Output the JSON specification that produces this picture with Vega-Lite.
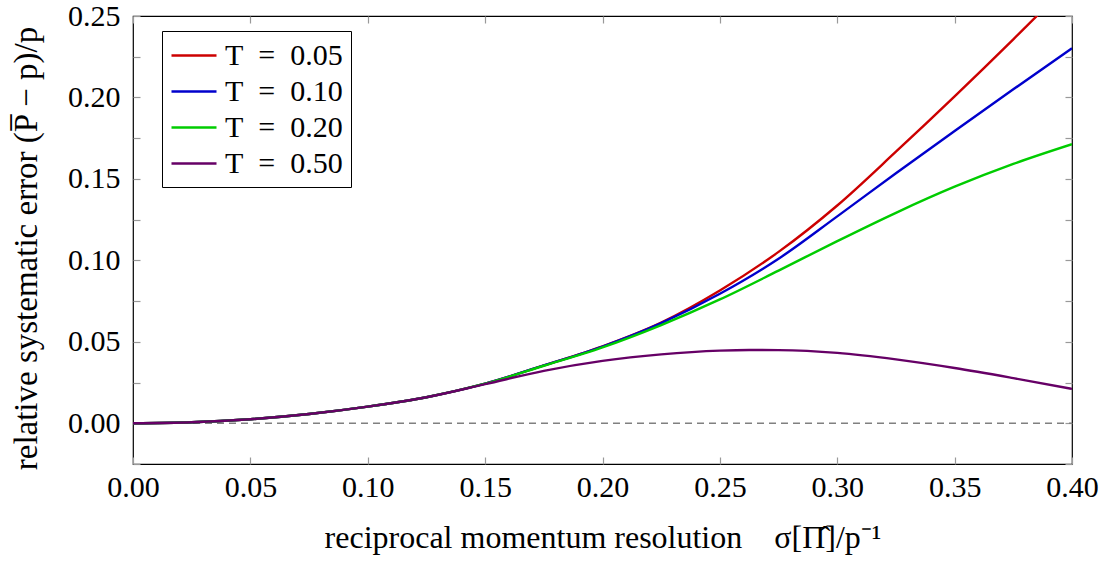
{
  "$schema": "https://vega.github.io/schema/vega-lite/v6.json",
  "width": 939,
  "height": 448,
  "autosize": {"type": "none"},
  "padding": {"left": 133, "top": 16, "right": 36, "bottom": 99},
  "background": "white",
  "config": {
    "font": "Liberation Serif, serif",
    "view": {"stroke": "black", "strokeWidth": 1.2},
    "axis": {
      "labelFont": "Liberation Serif, serif",
      "titleFont": "Liberation Serif, serif",
      "labelFontSize": 30,
      "titleFontSize": 32,
      "labelColor": "black",
      "titleColor": "black",
      "titleFontWeight": "normal",
      "gridColor": "#c8c8c8",
      "gridWidth": 1.2,
      "tickColor": "#999999",
      "tickWidth": 1.2,
      "domain": false
    }
  },
  "datasets": {
    "curves": [
      {"sigma": 0, "err": 0, "T": "T\u2002=\u20020.05"},
      {"sigma": 0.025, "err": 0.0006, "T": "T\u2002=\u20020.05"},
      {"sigma": 0.05, "err": 0.0025, "T": "T\u2002=\u20020.05"},
      {"sigma": 0.075, "err": 0.0057, "T": "T\u2002=\u20020.05"},
      {"sigma": 0.1, "err": 0.0102, "T": "T\u2002=\u20020.05"},
      {"sigma": 0.125, "err": 0.016, "T": "T\u2002=\u20020.05"},
      {"sigma": 0.15, "err": 0.0243, "T": "T\u2002=\u20020.05"},
      {"sigma": 0.175, "err": 0.0355, "T": "T\u2002=\u20020.05"},
      {"sigma": 0.2, "err": 0.0472, "T": "T\u2002=\u20020.05"},
      {"sigma": 0.225, "err": 0.0618, "T": "T\u2002=\u20020.05"},
      {"sigma": 0.25, "err": 0.0815, "T": "T\u2002=\u20020.05"},
      {"sigma": 0.275, "err": 0.1052, "T": "T\u2002=\u20020.05"},
      {"sigma": 0.3, "err": 0.1337, "T": "T\u2002=\u20020.05"},
      {"sigma": 0.325, "err": 0.1667, "T": "T\u2002=\u20020.05"},
      {"sigma": 0.35, "err": 0.2007, "T": "T\u2002=\u20020.05"},
      {"sigma": 0.375, "err": 0.2357, "T": "T\u2002=\u20020.05"},
      {"sigma": 0.4, "err": 0.2717, "T": "T\u2002=\u20020.05"},
      {"sigma": 0, "err": 0, "T": "T\u2002=\u20020.10"},
      {"sigma": 0.025, "err": 0.0006, "T": "T\u2002=\u20020.10"},
      {"sigma": 0.05, "err": 0.0025, "T": "T\u2002=\u20020.10"},
      {"sigma": 0.075, "err": 0.0057, "T": "T\u2002=\u20020.10"},
      {"sigma": 0.1, "err": 0.0102, "T": "T\u2002=\u20020.10"},
      {"sigma": 0.125, "err": 0.016, "T": "T\u2002=\u20020.10"},
      {"sigma": 0.15, "err": 0.0243, "T": "T\u2002=\u20020.10"},
      {"sigma": 0.175, "err": 0.0355, "T": "T\u2002=\u20020.10"},
      {"sigma": 0.2, "err": 0.0471, "T": "T\u2002=\u20020.10"},
      {"sigma": 0.225, "err": 0.0615, "T": "T\u2002=\u20020.10"},
      {"sigma": 0.25, "err": 0.0795, "T": "T\u2002=\u20020.10"},
      {"sigma": 0.275, "err": 0.101, "T": "T\u2002=\u20020.10"},
      {"sigma": 0.3, "err": 0.127, "T": "T\u2002=\u20020.10"},
      {"sigma": 0.325, "err": 0.1535, "T": "T\u2002=\u20020.10"},
      {"sigma": 0.35, "err": 0.1794, "T": "T\u2002=\u20020.10"},
      {"sigma": 0.375, "err": 0.205, "T": "T\u2002=\u20020.10"},
      {"sigma": 0.4, "err": 0.2302, "T": "T\u2002=\u20020.10"},
      {"sigma": 0, "err": 0, "T": "T\u2002=\u20020.20"},
      {"sigma": 0.025, "err": 0.0006, "T": "T\u2002=\u20020.20"},
      {"sigma": 0.05, "err": 0.0025, "T": "T\u2002=\u20020.20"},
      {"sigma": 0.075, "err": 0.0057, "T": "T\u2002=\u20020.20"},
      {"sigma": 0.1, "err": 0.0102, "T": "T\u2002=\u20020.20"},
      {"sigma": 0.125, "err": 0.016, "T": "T\u2002=\u20020.20"},
      {"sigma": 0.15, "err": 0.0243, "T": "T\u2002=\u20020.20"},
      {"sigma": 0.175, "err": 0.0353, "T": "T\u2002=\u20020.20"},
      {"sigma": 0.2, "err": 0.0466, "T": "T\u2002=\u20020.20"},
      {"sigma": 0.225, "err": 0.0603, "T": "T\u2002=\u20020.20"},
      {"sigma": 0.25, "err": 0.076, "T": "T\u2002=\u20020.20"},
      {"sigma": 0.275, "err": 0.0937, "T": "T\u2002=\u20020.20"},
      {"sigma": 0.3, "err": 0.1118, "T": "T\u2002=\u20020.20"},
      {"sigma": 0.325, "err": 0.1292, "T": "T\u2002=\u20020.20"},
      {"sigma": 0.35, "err": 0.1452, "T": "T\u2002=\u20020.20"},
      {"sigma": 0.375, "err": 0.1592, "T": "T\u2002=\u20020.20"},
      {"sigma": 0.4, "err": 0.1713, "T": "T\u2002=\u20020.20"},
      {"sigma": 0, "err": 0, "T": "T\u2002=\u20020.50"},
      {"sigma": 0.025, "err": 0.0006, "T": "T\u2002=\u20020.50"},
      {"sigma": 0.05, "err": 0.0025, "T": "T\u2002=\u20020.50"},
      {"sigma": 0.075, "err": 0.0057, "T": "T\u2002=\u20020.50"},
      {"sigma": 0.1, "err": 0.0102, "T": "T\u2002=\u20020.50"},
      {"sigma": 0.125, "err": 0.016, "T": "T\u2002=\u20020.50"},
      {"sigma": 0.15, "err": 0.024, "T": "T\u2002=\u20020.50"},
      {"sigma": 0.175, "err": 0.0322, "T": "T\u2002=\u20020.50"},
      {"sigma": 0.2, "err": 0.0383, "T": "T\u2002=\u20020.50"},
      {"sigma": 0.225, "err": 0.0423, "T": "T\u2002=\u20020.50"},
      {"sigma": 0.25, "err": 0.0446, "T": "T\u2002=\u20020.50"},
      {"sigma": 0.2625, "err": 0.0450, "T": "T\u2002=\u20020.50"},
      {"sigma": 0.275, "err": 0.0449, "T": "T\u2002=\u20020.50"},
      {"sigma": 0.3, "err": 0.0432, "T": "T\u2002=\u20020.50"},
      {"sigma": 0.325, "err": 0.0392, "T": "T\u2002=\u20020.50"},
      {"sigma": 0.35, "err": 0.0339, "T": "T\u2002=\u20020.50"},
      {"sigma": 0.375, "err": 0.0277, "T": "T\u2002=\u20020.50"},
      {"sigma": 0.4, "err": 0.0211, "T": "T\u2002=\u20020.50"}
    ]
  },
  "layer": [
    {
      "data": {"values": [{}]},
      "mark": {"type": "rule", "strokeDash": [7, 5], "color": "#808080", "strokeWidth": 1.5},
      "encoding": {
        "x": {"datum": 0, "type": "quantitative", "scale": {"domain": [0, 0.4], "nice": false, "zero": false},
          "axis": {"orient": "top", "values": [0, 0.05, 0.1, 0.15, 0.2, 0.25, 0.3, 0.35, 0.4], "labels": false, "grid": false, "tickSize": -7, "title": null}},
        "x2": {"datum": 0.4},
        "y": {"datum": 0, "type": "quantitative", "scale": {"domain": [-0.025, 0.25], "nice": false, "zero": false},
          "axis": {"orient": "right", "values": [-0.025, 0, 0.025, 0.05, 0.075, 0.1, 0.125, 0.15, 0.175, 0.2, 0.225, 0.25], "labels": false, "grid": false, "tickSize": -7, "title": null}}
      }
    },
    {
      "data": {"name": "curves"},
      "mark": {"type": "line", "interpolate": "monotone", "strokeWidth": 2.4, "clip": true},
      "encoding": {
        "x": {"field": "sigma", "type": "quantitative", "scale": {"domain": [0, 0.4], "nice": false, "zero": false},
          "axis": {"orient": "bottom", "values": [0, 0.05, 0.1, 0.15, 0.2, 0.25, 0.3, 0.35, 0.4], "format": ".2f", "tickSize": -7, "labelPadding": 15, "labelFlush": false, "title": "reciprocal momentum resolution\u2003σ[Π\u0302]/p⁻¹", "titlePadding": 20}},
        "y": {"field": "err", "type": "quantitative", "scale": {"domain": [-0.025, 0.25], "nice": false, "zero": false},
          "axis": {"orient": "left", "values": [-0.025, 0, 0.025, 0.05, 0.075, 0.1, 0.125, 0.15, 0.175, 0.2, 0.225, 0.25], "labelExpr": "round(datum.value*1000) % 50 == 0 ? format(datum.value, '.2f') : ''", "tickSize": -7, "labelPadding": 20, "labelFlush": false, "title": "relative systematic error (P\u0305 − p)/p", "titleFontSize": 33, "titleY": 232, "titlePadding": 24}},
        "color": {"field": "T", "type": "nominal",
          "scale": {"domain": ["T\u2002=\u20020.05", "T\u2002=\u20020.10", "T\u2002=\u20020.20", "T\u2002=\u20020.50"], "range": ["#cc0000", "#0000cc", "#00cc00", "#660066"]},
          "legend": {"orient": "none", "legendX": 29, "legendY": 15, "title": null, "symbolType": "M-1,0H2", "symbolSize": 900, "symbolStrokeWidth": 2.4, "labelFontSize": 30, "labelFont": "Liberation Serif, serif", "labelColor": "black", "strokeColor": "black", "fillColor": "white", "padding": 8, "rowPadding": 4, "labelOffset": 22, "cornerRadius": 0}}
      }
    }
  ],
  "resolve": {"axis": {"x": "independent", "y": "independent"}}
}
